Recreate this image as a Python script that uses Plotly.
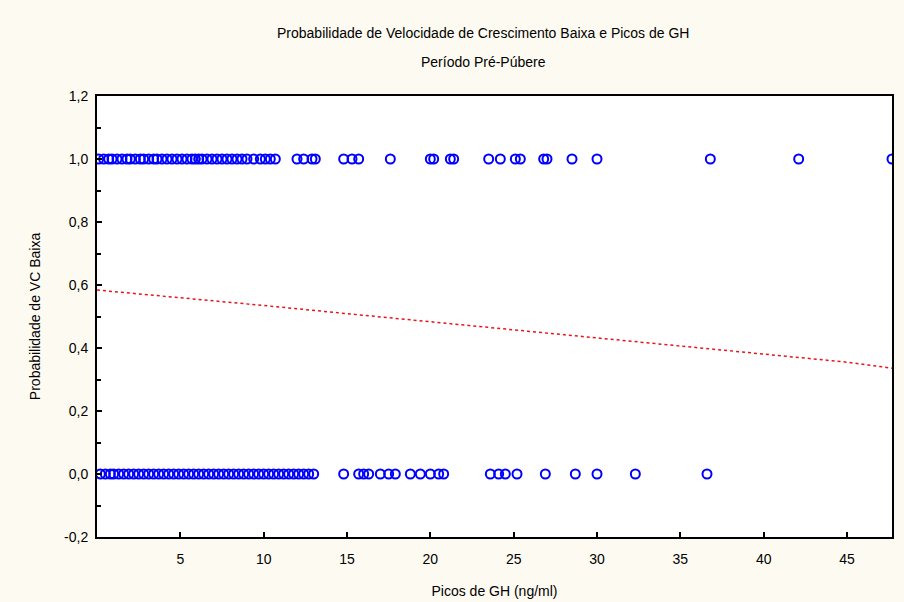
import plotly.graph_objects as go

title_line1 = "Probabilidade de Velocidade de Crescimento Baixa e Picos de GH"
title_line2 = "Período Pré-Púbere"
x_label = "Picos de GH (ng/ml)"
y_label = "Probabilidade de VC Baixa"

# Observed GH peaks with outcome = 1 (low growth velocity)
gh_low_vc = [0.1, 0.4, 0.7, 0.9, 1.2, 1.5, 1.8, 2.0, 2.3, 2.6, 2.8, 3.1, 3.4, 3.6,
             3.9, 4.2, 4.5, 4.8, 5.1, 5.4, 5.7, 5.9, 6.1, 6.3, 6.6, 6.9, 7.2, 7.5,
             7.8, 8.1, 8.4, 8.7, 9.0, 9.4, 9.8, 10.1, 10.4, 10.7,
             12.0, 12.4, 12.9, 13.1, 14.8, 15.3, 15.7, 17.6, 20.0, 20.2, 21.2, 21.4,
             23.5, 24.2, 25.1, 25.4, 26.8, 27.0, 28.5, 30.0, 36.8, 42.1, 47.7]
# Observed GH peaks with outcome = 0
gh_normal_vc = [0.2, 0.5, 0.8, 1.0, 1.3, 1.6, 1.9, 2.2, 2.5, 2.8, 3.1, 3.4, 3.7, 4.0,
                4.3, 4.6, 4.9, 5.2, 5.5, 5.8, 6.1, 6.4, 6.7, 7.0, 7.3, 7.6, 7.9, 8.2,
                8.5, 8.8, 9.1, 9.4, 9.7, 10.0, 10.3, 10.6, 10.9, 11.2, 11.5, 11.8,
                12.1, 12.4, 12.7, 13.0, 14.8, 15.7, 16.0, 16.3, 17.0, 17.5, 17.9,
                18.8, 19.4, 20.0, 20.5, 20.8, 23.6, 24.1, 24.5, 25.2, 26.9, 28.7,
                30.0, 32.3, 36.6]

# Fitted probability curve
fit_x = [0, 5, 10, 15, 20, 25, 30, 35, 40, 45, 47.7]
fit_y = [0.584, 0.560, 0.535, 0.509, 0.483, 0.457, 0.431, 0.405, 0.380, 0.355, 0.336]

x_ticks = [5, 10, 15, 20, 25, 30, 35, 40, 45]
y_ticks = [-0.2, 0.0, 0.2, 0.4, 0.6, 0.8, 1.0, 1.2]
y_tick_labels = ["-0,2", "0,0", "0,2", "0,4", "0,6", "0,8", "1,0", "1,2"]

marker_style = dict(symbol="circle-open", size=9, color="#0000ff",
                    line=dict(width=2, color="#0000ff"))

fig = go.Figure()
fig.add_trace(go.Scatter(x=gh_low_vc, y=[1.0] * len(gh_low_vc), mode="markers",
                         marker=marker_style, showlegend=False))
fig.add_trace(go.Scatter(x=gh_normal_vc, y=[0.0] * len(gh_normal_vc), mode="markers",
                         marker=marker_style, showlegend=False))
fig.add_trace(go.Scatter(x=fit_x, y=fit_y, mode="lines",
                         line=dict(color="#e8141e", width=1.5, dash="dot"),
                         showlegend=False))

W, H = 904, 602
ML, MR, MT, MB = 97, 12, 96, 65
font_family = "Liberation Sans, DejaVu Sans, sans-serif"
fig.update_layout(
    width=W, height=H,
    margin=dict(l=ML, r=MR, t=MT, b=MB, autoexpand=False),
    paper_bgcolor="#fdfbf1",
    plot_bgcolor="#ffffff",
    font=dict(family=font_family, size=14, color="#000000"),
    xaxis=dict(range=[0, 47.7], tickvals=x_ticks, ticks="inside", ticklen=5,
               tickwidth=1.5, tickcolor="#000", showgrid=False, zeroline=False,
               showline=True, linecolor="#000", linewidth=2, mirror=True,
               automargin=False, ticklabelstandoff=8,
               title=dict(text=x_label, standoff=20, font=dict(size=14)),
               tickfont=dict(size=14)),
    yaxis=dict(range=[-0.2, 1.2], tickvals=y_ticks, ticktext=y_tick_labels,
               ticks="inside", ticklen=5, tickwidth=1.5, tickcolor="#000",
               minor=dict(dtick=0.1, ticks="inside", ticklen=4, tickcolor="#000"),
               showgrid=False, zeroline=False, showline=True, linecolor="#000",
               linewidth=2, mirror=True, automargin=False, ticklabelstandoff=4,
               title=dict(text=y_label, standoff=20, font=dict(size=14)),
               tickfont=dict(size=14)),
)

plot_w = W - ML - MR
plot_h = H - MT - MB
for text, py in [(title_line1, 33), (title_line2, 62)]:
    fig.add_annotation(text=text, x=(483 - ML) / plot_w, y=(H - MB - py) / plot_h,
                       xref="paper", yref="paper", xanchor="center", yanchor="middle",
                       showarrow=False, font=dict(size=14))

fig.write_html("out.html",
               config={"displayModeBar": False},
               post_script="document.body.style.margin='0';"
                           "document.body.style.overflow='hidden';")
